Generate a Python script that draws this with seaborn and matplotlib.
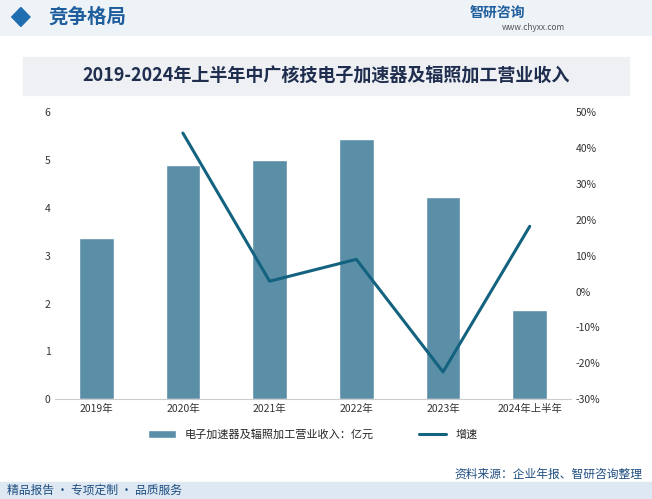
import numpy as np
import pandas as pd
import seaborn as sns
from matplotlib import pyplot as plt
from matplotlib.patches import Rectangle, Polygon
from matplotlib.ticker import FuncFormatter

years = ["2019年", "2020年", "2021年", "2022年", "2023年", "2024年上半年"]
revenue = [3.38, 4.9, 5.0, 5.45, 4.22, 1.86]
growth = [np.nan, 44.2, 2.9, 9.0, -22.4, 18.2]

df = pd.DataFrame({"year": years, "revenue": revenue, "growth": growth})

sns.set_style("white")
plt.rcParams['font.family'] = 'sans-serif'
plt.rcParams['font.sans-serif'] = ['Noto Sans CJK SC', 'Noto Sans CJK JP', 'DejaVu Sans']

fig = plt.figure(figsize=(6.52, 4.99), dpi=100)

# header / title / footer decorations
fig.patches.append(Rectangle((0, 0.93), 1, 0.07, transform=fig.transFigure, color='#eef3f8', zorder=0))
fig.patches.append(Polygon([[0.018, 0.966], [0.032, 0.985], [0.046, 0.966], [0.032, 0.947]],
                           transform=fig.transFigure, color='#1f6eb0'))
fig.text(0.075, 0.966, "竞争格局", fontsize=14, color='#1f5e9c', fontweight='bold', va='center')
fig.text(0.72, 0.975, "智研咨询", fontsize=10, color='#1f5e9c', fontweight='bold', va='center')
fig.text(0.77, 0.945, "www.chyxx.com", fontsize=6, color='#555555', va='center')
fig.patches.append(Rectangle((0.035, 0.81), 0.93, 0.075, transform=fig.transFigure, color='#eef0f3', zorder=0))
fig.text(0.5, 0.848, "2019-2024年上半年中广核技电子加速器及辐照加工营业收入", fontsize=13,
         fontweight='bold', ha='center', va='center', color='#1f2d4f')
fig.patches.append(Rectangle((0, 0), 1, 0.035, transform=fig.transFigure, color='#dde8f3', zorder=0))
fig.text(0.01, 0.018, "精品报告 · 专项定制 · 品质服务", fontsize=8.5, color='#1f4e80', va='center')
fig.text(0.985, 0.05, "资料来源：企业年报、智研咨询整理", fontsize=8.5, color='#1f4e80', va='center', ha='right')

ax = fig.add_axes([0.085, 0.2, 0.79, 0.575])
sns.barplot(data=df, x="year", y="revenue", color='#5b8fa8', width=0.4, ax=ax,
            label="电子加速器及辐照加工营业收入：亿元", saturation=1)
ax.set_ylim(0, 6)
ax.set_xlabel("")
ax.set_ylabel("")
ax.tick_params(labelsize=7.5, length=0, colors='#333333')
for s in ax.spines.values():
    s.set_visible(False)
ax.spines['bottom'].set_visible(True)
ax.spines['bottom'].set_color('#cccccc')

ax2 = ax.twinx()
sns.lineplot(data=df, x="year", y="growth", color='#13627f', linewidth=2.2, ax=ax2, label="增速")
ax2.set_ylim(-30, 50)
ax2.set_yticks(range(-30, 51, 10))
ax2.yaxis.set_major_formatter(FuncFormatter(lambda v, p: f"{v:.0f}%"))
ax2.set_ylabel("")
ax2.tick_params(labelsize=7.5, length=0, colors='#333333')
for s in ax2.spines.values():
    s.set_visible(False)
ax2.get_legend().remove()

h1, l1 = ax.get_legend_handles_labels()
h2, l2 = ax2.get_legend_handles_labels()
ax.legend(h1 + h2, l1 + l2, loc='upper center', bbox_to_anchor=(0.5, -0.07), ncol=2,
          frameon=False, fontsize=8, handlelength=2.5, columnspacing=4)

fig.savefig("out.png", dpi=100)
